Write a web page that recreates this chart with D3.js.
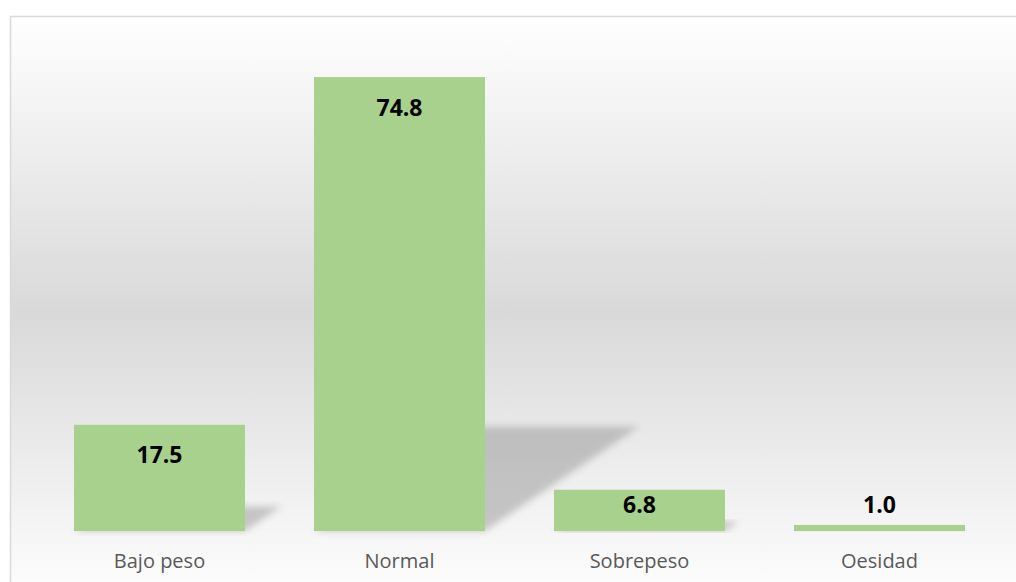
<!DOCTYPE html>
<html>
  <head>
    <title>Estado nutricional</title>
    <script src="https://d3js.org/d3.v7.min.js"></script>
    <style>
      body { margin: 0; background: #fff; }
    </style>
  </head>
  <body>
    <svg id="chart" width="1016" height="582"></svg>
    <script>
      let categories = ["Bajo peso", "Normal", "Sobrepeso", "Oesidad"];
      let values = [17.5, 74.8, 6.8, 1.0];

      let svg = d3.select("#chart");
      let defs = svg.append("defs");

      // background: white -> grey -> white
      let grad = defs.append("linearGradient")
        .attr("id", "bg").attr("x1", 0).attr("y1", 0).attr("x2", 0).attr("y2", 1);
      grad.append("stop").attr("offset", "0%").attr("stop-color", "#ffffff");
      grad.append("stop").attr("offset", "50%").attr("stop-color", "#d9d9d9");
      grad.append("stop").attr("offset", "100%").attr("stop-color", "#ffffff");

      defs.append("filter").attr("id", "blur")
        .attr("x", "-20%").attr("y", "-20%").attr("width", "140%").attr("height", "140%")
        .append("feGaussianBlur").attr("stdDeviation", 3.5);

      svg.append("rect")
        .attr("x", 10.5).attr("y", 16.5)
        .attr("width", 1030).attr("height", 590)
        .style("fill", "url(#bg)")
        .style("stroke", "#d9d9d9")
        .style("stroke-width", 1.5);

      let x = d3.scaleBand()
        .domain(categories)
        .range([39.5, 999.5])
        .paddingInner(0.2875)
        .paddingOuter(0.14375);

      let baseY = 531;
      let y = d3.scaleLinear().domain([0, 80]).range([baseY, baseY - 485.5]);

      let data = categories.map((c, i) => ({ cat: c, val: values[i] }));

      // perspective shadows
      svg.append("g")
        .selectAll("polygon")
        .data(data)
        .join("polygon")
        .attr("points", (d) => {
          let h = baseY - y(d.val);
          let sh = h * 0.23;
          let dx = h * 0.34;
          let x0 = x(d.cat), x1 = x(d.cat) + x.bandwidth();
          return [[x0, baseY], [x1, baseY], [x1 + dx, baseY - sh], [x0 + dx, baseY - sh]]
            .map((p) => p.join(",")).join(" ");
        })
        .style("fill", "#8c8c8c")
        .style("opacity", 0.45)
        .attr("filter", "url(#blur)");

      svg.append("g")
        .selectAll("rect")
        .data(data)
        .join("rect")
        .attr("x", (d) => x(d.cat))
        .attr("y", (d) => y(d.val))
        .attr("width", x.bandwidth())
        .attr("height", (d) => baseY - y(d.val))
        .style("fill", "#a9d18e");

      // value labels, inside end unless the bar is too short
      function labelY(d) {
        let h = baseY - y(d.val);
        if (h > 60) return y(d.val) + 38.5;
        if (h > 25) return y(d.val) + 23;
        return y(d.val) - 12;
      }

      svg.append("g")
        .selectAll("text")
        .data(data)
        .join("text")
        .attr("x", (d) => x(d.cat) + x.bandwidth() / 2)
        .attr("y", labelY)
        .attr("text-anchor", "middle")
        .style("font-family", "'Open Sans', sans-serif")
        .style("font-weight", "bold")
        .style("font-size", "23px")
        .style("fill", "#000")
        .text((d) => d.val.toFixed(1));

      svg.append("g")
        .selectAll("text")
        .data(categories)
        .join("text")
        .attr("x", (d) => x(d) + x.bandwidth() / 2)
        .attr("y", 568)
        .attr("text-anchor", "middle")
        .style("font-family", "'Open Sans', sans-serif")
        .style("font-size", "20px")
        .style("fill", "#595959")
        .text((d) => d);
    </script>
  </body>
</html>
